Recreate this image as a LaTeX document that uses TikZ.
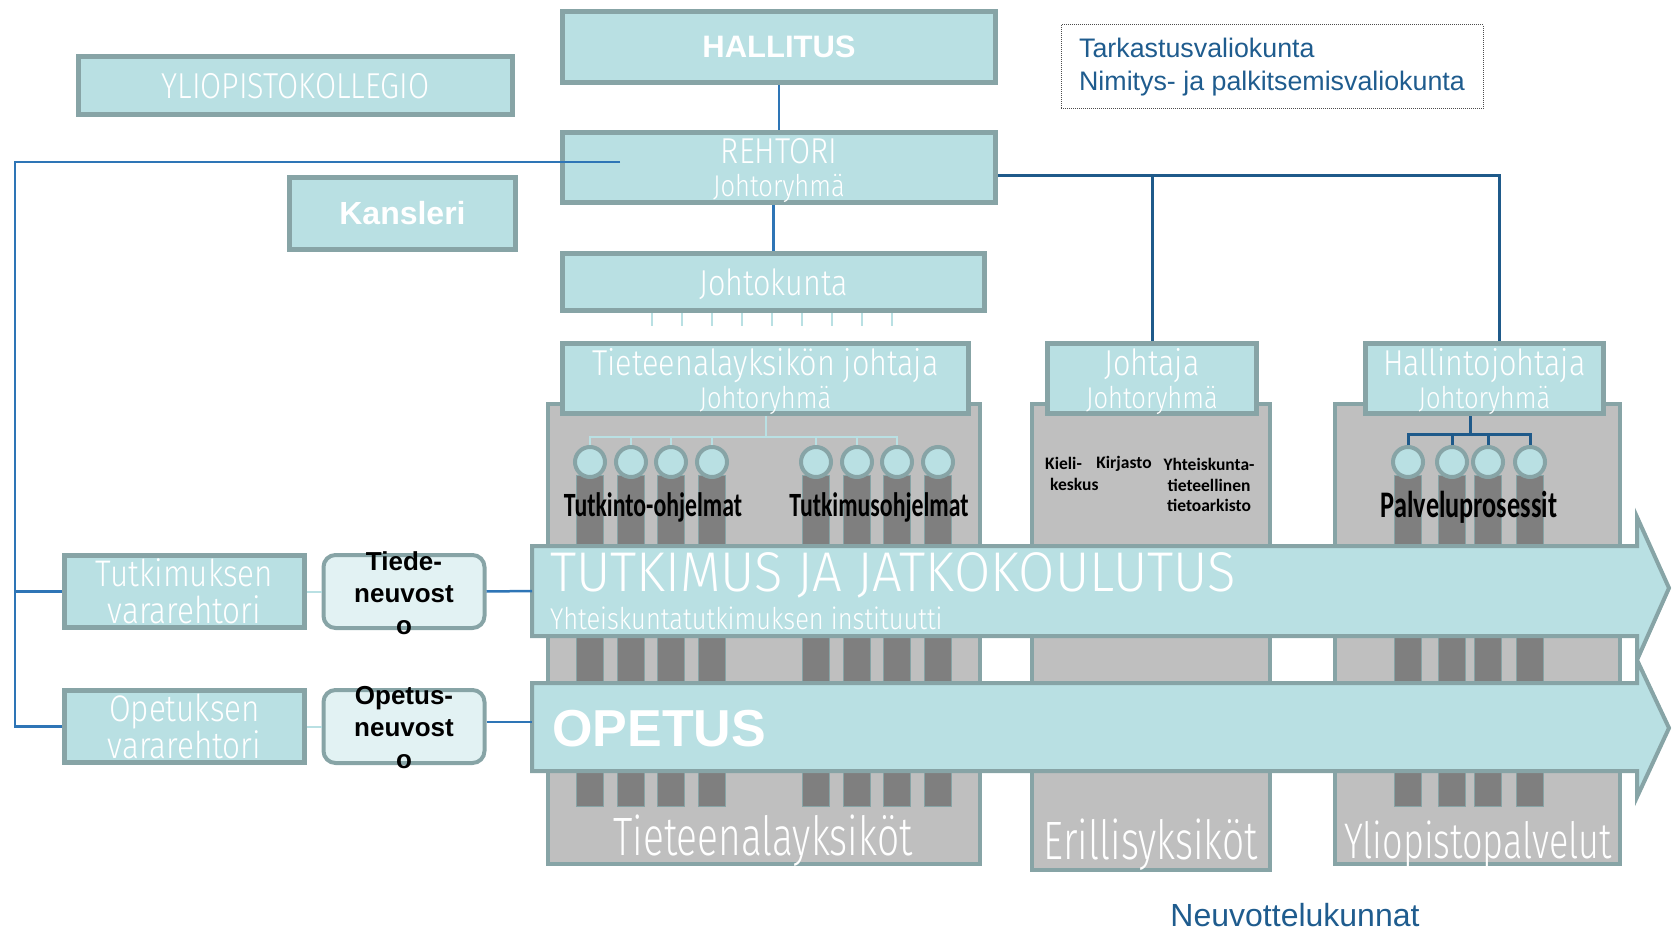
\documentclass[tikz,border=0pt]{standalone}
\usepackage{fontspec}
\setmainfont{Liberation Sans}
\newfontfamily\lightsf[FakeStretch=0.85]{Fira Sans Light}
\newfontfamily\widesf[FakeStretch=0.94]{Fira Sans Light}
\newfontfamily\condsf[FakeStretch=0.72]{Fira Sans Light}
\newfontfamily\calib{Carlito}
\newfontfamily\calibcond[FakeStretch=0.7]{Carlito}
\usepackage{tikz}
\usetikzlibrary{positioning}

\definecolor{boxfill}{HTML}{B9E0E3}
\definecolor{boxline}{HTML}{87A4A6}
\definecolor{unitfill}{HTML}{BFBFBF}
\definecolor{barfill}{HTML}{7F7F7F}
\definecolor{councilfill}{HTML}{E2F2F3}
\definecolor{linkblue}{HTML}{2E75B6}
\definecolor{darkblue}{HTML}{1F5A8A}
\definecolor{textblue}{HTML}{1F5C8E}

\begin{document}
\begin{tikzpicture}[x=1pt,y=-1pt,
        box/.style={draw=boxline,fill=boxfill,line width=5pt,inner sep=0pt,text=white,align=center},
        council/.style={draw=boxline,fill=councilfill,line width=4pt,rounded corners=12pt,inner sep=0pt},
        councillbl/.style={align=center,inner sep=0pt,font=\bfseries\fontsize{26}{32}\selectfont},
        unit/.style={draw=boxline,fill=unitfill,line width=4pt,inner sep=0pt},
        bar/.style={draw=boxline,fill=barfill,line width=1pt},
        head/.style={circle,draw=boxline,fill=boxfill,line width=4pt,minimum size=30pt,inner sep=0pt},
        stream/.style={draw=boxline,fill=boxfill,line width=4pt},
        link/.style={draw=linkblue,line width=2.5pt},
        mainlink/.style={draw=darkblue,line width=3pt},
        pale/.style={draw=boxfill,line width=2pt},
        lite/.style={text depth=0pt,font=\lightsf\fontsize{36}{33}\selectfont},
        prog/.style={font=\calibcond\bfseries\fontsize{34}{34}\selectfont},
        small/.style={inner sep=0pt,font=\calib\bfseries\fontsize{17.5}{20.5}\selectfont},
        unitlbl/.style={text=white,inner sep=0pt}]
    \useasboundingbox (0,0) rectangle (1673,933);

    % units behind the streams
    \node[unit,minimum width=432pt,minimum height=460pt] (tyks) at (764,634) {};
    \node[unit,minimum width=238pt,minimum height=466pt] (erill) at (1151,637) {};
    \node[unit,minimum width=285pt,minimum height=460pt] (palv) at (1477.5,634) {};

    \node[box,minimum width=406pt,minimum height=70pt,lite] (tjohtaja) at (765.5,378.5) {Tieteenalayksikön johtaja\\{\fontsize{30}{30}\selectfont Johtoryhmä}};
    \node[box,minimum width=209pt,minimum height=70pt,lite] (ejohtaja) at (1152,378.5) {Johtaja\\{\fontsize{30}{30}\selectfont Johtoryhmä}};
    \node[box,minimum width=238pt,minimum height=70pt,lite] (hjohtaja) at (1484.5,378.5) {Hallintojohtaja\\{\fontsize{30}{30}\selectfont Johtoryhmä}};

    % programmes
    \foreach \bx in {590,631,671,712,816,857,897,938,1408,1452,1488,1530}
        \draw[bar] (\bx-13.5,475) rectangle (\bx+13.5,806);
    \foreach \cx [count=\i] in {590,631,671,712,816,857,897,938}
        \node[head] (t\i) at (\cx,462) {};
    \foreach \cx [count=\i] in {1408,1452,1488,1530}
        \node[head] (p\i) at (\cx,462) {};

    \coordinate (tsplit) at (765,437);
    \draw[pale] (tjohtaja.south) -- (tjohtaja.south |- tsplit);
    \foreach \i in {1,...,7}
        \draw[pale] (t\i.north) |- (tsplit);
    \coordinate (psplit) at (1470,434);
    \draw[mainlink] (psplit) -- (psplit |- hjohtaja.south);
    \foreach \i in {1,...,4}
        \draw[mainlink] (p\i.north) |- (psplit);

    \node[prog] (tprog) at (653,507) {Tutkinto-ohjelmat};
    \node[prog] (rprog) at (879,507) {Tutkimusohjelmat};
    \node[prog,font=\calibcond\bfseries\fontsize{37.5}{37.5}\selectfont] (pprog) at (1469,507) {Palveluprosessit};
    \node[small,anchor=west,align=left] (kieli) at (1045,474) {Kieli-\\\hspace*{5pt}keskus};
    \node[small] (kirjasto) at (1124,464) {Kirjasto};
    \node[small,align=center] (ytta) at (1209,485) {Yhteiskunta-\\tieteellinen\\tietoarkisto};

    % streams
    \draw[stream] (532,546) -- (1637,546) -- (1637,517) -- (1669,588) -- (1637,660) -- (1637,636) -- (532,636) -- cycle;
    \draw[stream] (532,683) -- (1637,683) -- (1637,660) -- (1669,728) -- (1637,797) -- (1637,771) -- (532,771) -- cycle;
    \coordinate (tutk) at (532,591);
    \coordinate (opet) at (532,722);
    \node[anchor=west,inner sep=0pt,text=white,font=\widesf\fontsize{56}{56}\selectfont] (tutklbl) at (550,575) {TUTKIMUS JA JATKOKOULUTUS};
    \node[anchor=west,inner sep=0pt,text=white,font=\lightsf\fontsize{30}{30}\selectfont] (ysilbl) at (550,618) {Yhteiskuntatutkimuksen instituutti};
    \node[anchor=west,inner sep=0pt,text=white,font=\bfseries\fontsize{52}{52}\selectfont] (opetlbl) at (552,729) {OPETUS};

    \node[unitlbl,font=\condsf\fontsize{54}{54}\selectfont] (tykslbl) at (763,841) {Tieteenalayksiköt};
    \node[unitlbl,font=\condsf\fontsize{54}{54}\selectfont] (erilllbl) at (1151,845) {Erillisyksiköt};
    \node[unitlbl,font=\condsf\fontsize{50}{50}\selectfont] (palvlbl) at (1478,845) {Yliopistopalvelut};

    % top of the organisation
    \node[box,minimum width=433pt,minimum height=71pt,font=\bfseries\fontsize{31}{31}\selectfont] (hallitus) at (779,47) {HALLITUS};
    \node[box,minimum width=433pt,minimum height=70pt,lite] (rehtori) at (779,167.5) {REHTORI\\{\fontsize{30}{30}\selectfont Johtoryhmä}};
    \node[box,minimum width=422pt,minimum height=57pt,lite] (johtokunta) at (773.5,282) {Johtokunta};
    \node[box,minimum width=434pt,minimum height=58pt,lite] (kollegio) at (295.5,85.5) {YLIOPISTOKOLLEGIO};
    \node[box,minimum width=226pt,minimum height=72pt,font=\bfseries\fontsize{32}{32}\selectfont] (kansleri) at (402.5,213.5) {Kansleri};
    \node[draw=black!70,densely dotted,line width=1pt,minimum width=422pt,minimum height=84pt,inner sep=0pt,align=left,text=textblue,font=\fontsize{26.8}{33}\selectfont] (valiokunnat) at (1272,67) {Tarkastusvaliokunta\\Nimitys- ja palkitsemisvaliokunta};

    % vice rectors and councils
    \node[box,minimum width=240pt,minimum height=72pt,font=\lightsf\fontsize{37}{37}\selectfont] (tvr) at (184.5,591.5) {Tutkimuksen\\vararehtori};
    \node[box,minimum width=240pt,minimum height=72pt,font=\lightsf\fontsize{37}{37}\selectfont] (ovr) at (184.5,726.5) {Opetuksen\\vararehtori};
    \node[council,minimum width=161pt,minimum height=73pt] (tneuv) at (404,591.5) {};
    \node[council,minimum width=161pt,minimum height=73pt] (oneuv) at (404,726.5) {};
    \node[councillbl] (tneuvlbl) at (404,593) {Tiede-\\neuvost\\o};
    \node[councillbl] (oneuvlbl) at (404,728) {Opetus-\\neuvost\\o};

    \node[text=textblue,font=\fontsize{32}{32}\selectfont] (neuvottelu) at (1295,915) {Neuvottelukunnat};

    % connectors
    \draw[link] (hallitus) -- (rehtori);
    \draw[link] (johtokunta.north) -- (johtokunta.north |- rehtori.south);
    \foreach \tx in {652,682,...,892}
        \draw[pale] (johtokunta.south -| \tx,0) -- ++(0,13);
    \coordinate (rin) at (620,162);
    \coordinate (lbus) at (15,162);
    \draw[link] (rin) -- (lbus) |- (ovr.west);
    \draw[link] (lbus |- tvr.west) -- (tvr.west);
    \draw[pale] (tvr.east) -- (tneuv.west);
    \draw[pale] (ovr.east) -- (oneuv.west);
    \draw[link] (tneuv.east) -- (tutk);
    \draw[link] (oneuv.east |- opet) -- (opet);
    \coordinate (rbus) at (1499,176);
    \draw[mainlink] (rehtori.east |- rbus) -- (rbus) -- (rbus |- hjohtaja.north);
    \draw[mainlink] (ejohtaja.north |- rbus) -- (ejohtaja.north);
\end{tikzpicture}
\end{document}
